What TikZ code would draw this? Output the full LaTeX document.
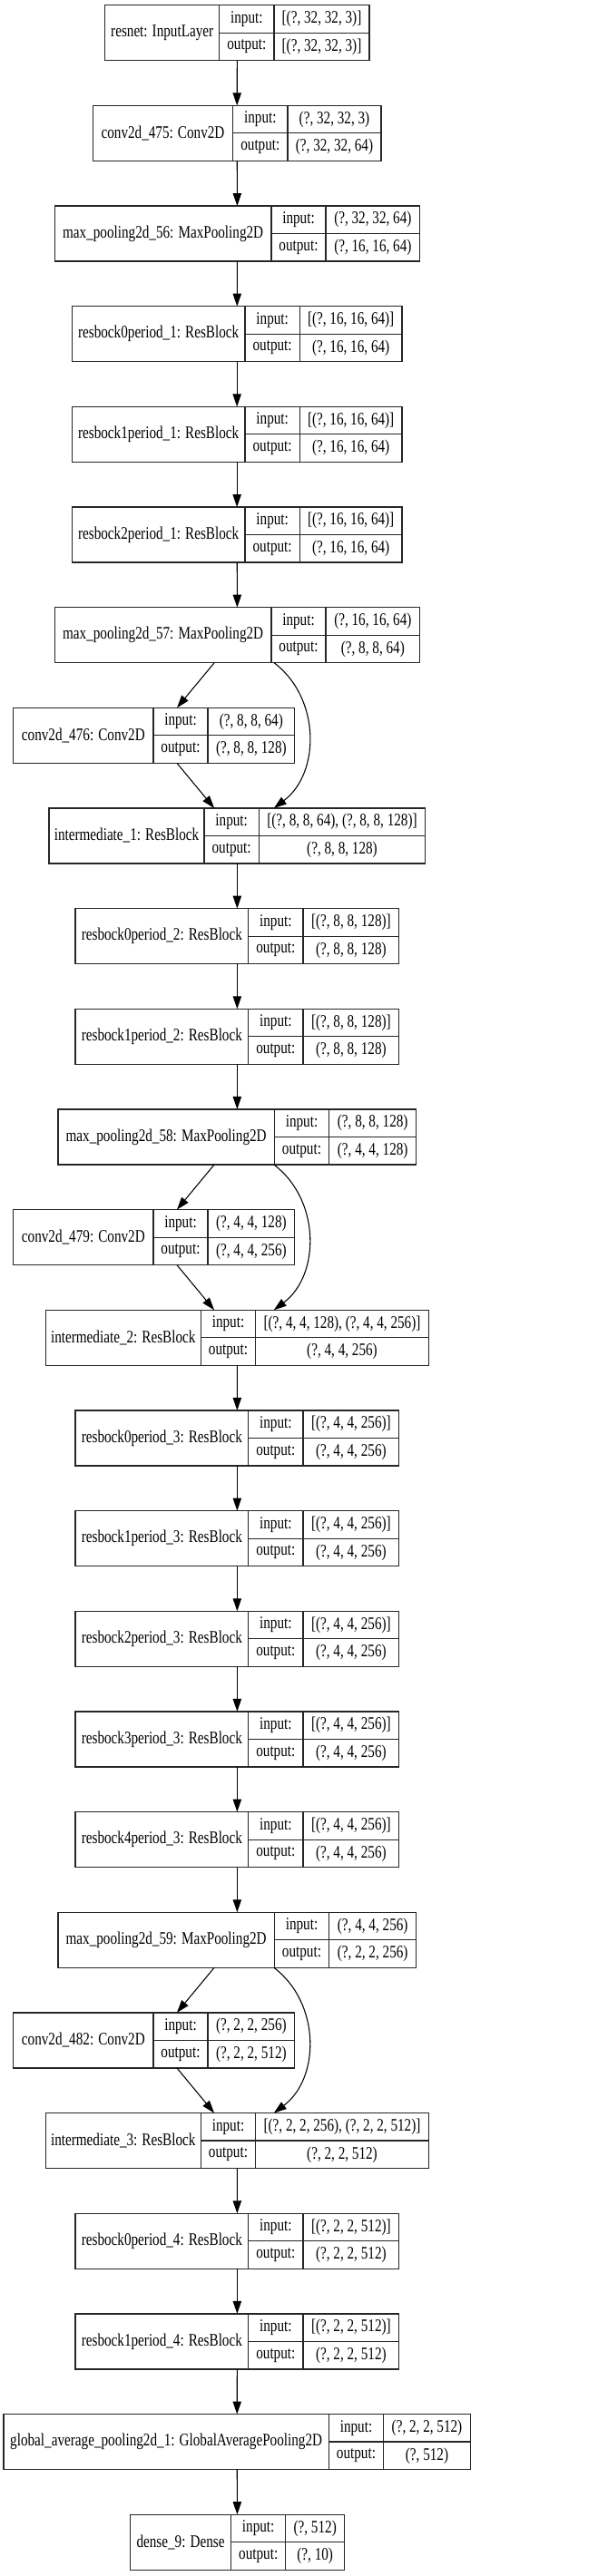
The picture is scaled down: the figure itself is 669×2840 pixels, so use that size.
\documentclass[tikz,border=0pt]{standalone}
\usepackage{fontspec}
\setmainfont{Liberation Serif}[FakeStretch=0.78]
\usetikzlibrary{arrows.meta}

% one keras layer: #1 name, #2 row, #3 left, #4 first rule, #5 second rule, #6 right,
% #7 label, #8 input shape, #9 output shape
\newcommand{\layer}[9]{%
  \pgfmathsetmacro{\ytop}{-(\rowtop + #2*\rowpitch)}
  \node (#1) at ({(#3+#6)/2}, \ytop-30.5) [layerbox, minimum width={(#6-#3)*0.75pt}] {};
  \draw[rule] (#4,\ytop) -- (#4,\ytop-61);
  \draw[rule] (#5,\ytop) -- (#5,\ytop-61);
  \draw[rule] (#4,\ytop-30.5) -- (#6,\ytop-30.5);
  \node (#1-name) at ({(#3+#4)/2}, \ytop-30.5) [txt] {#7};
  \node (#1-inkey) at ({(#4+#5)/2}, \ytop-15.25) [txt] {input:};
  \node (#1-in) at ({(#5+#6)/2}, \ytop-15.25) [txt] {#8};
  \node (#1-outkey) at ({(#4+#5)/2}, \ytop-45.75) [txt] {output:};
  \node (#1-out) at ({(#5+#6)/2}, \ytop-45.75) [txt] {#9};
}

\tikzset{
  layerbox/.style={draw=black!85, line width=0.9pt, inner sep=0pt, outer sep=0pt,
    minimum height=45.75pt},
  rule/.style={draw=black!85, line width=0.9pt},
  txt/.style={inner sep=0pt, font=\fontsize{14.6}{17}\selectfont},
  arr/.style={draw=black, line width=0.8pt, -{Triangle[length=10.5pt, width=7pt]}}
}

\begin{document}
\begin{tikzpicture}[x=0.75pt, y=0.75pt]

\def \rowtop {5.7}
\def \rowpitch {110.66}

\useasboundingbox (0,0) rectangle (669,-2840);

% Input and stem
\layer{in0}{0}{115.7}{241.7}{302}{407}{resnet: InputLayer}{[(?, 32, 32, 3)]}{[(?, 32, 32, 3)]}
\layer{c475}{1}{102.3}{256.7}{317}{420}{conv2d\_475: Conv2D}{(?, 32, 32, 3)}{(?, 32, 32, 64)}
\layer{mp56}{2}{60.3}{299}{359}{462.7}{max\_pooling2d\_56: MaxPooling2D}{(?, 32, 32, 64)}{(?, 16, 16, 64)}

% Period 1
\foreach \k in {0,1,2} {
  \pgfmathtruncatemacro{\r}{3 + \k}
  \layer{rb\k p1}{\r}{79.3}{270}{330.3}{443}{resbock\k period\_1: ResBlock}{[(?, 16, 16, 64)]}{(?, 16, 16, 64)}
}

% Down to period 2
\layer{mp57}{6}{60.3}{299}{359}{462.7}{max\_pooling2d\_57: MaxPooling2D}{(?, 16, 16, 64)}{(?, 8, 8, 64)}
\layer{c476}{7}{14.7}{169}{229}{324.7}{conv2d\_476: Conv2D}{(?, 8, 8, 64)}{(?, 8, 8, 128)}
\layer{int1}{8}{54}{225}{285.3}{468.7}{intermediate\_1: ResBlock}{[(?, 8, 8, 64), (?, 8, 8, 128)]}{(?, 8, 8, 128)}

% Period 2
\foreach \k in {0,1} {
  \pgfmathtruncatemacro{\r}{9 + \k}
  \layer{rb\k p2}{\r}{83}{273.7}{334}{439.7}{resbock\k period\_2: ResBlock}{[(?, 8, 8, 128)]}{(?, 8, 8, 128)}
}

% Down to period 3
\layer{mp58}{11}{64}{302.3}{362.7}{458.7}{max\_pooling2d\_58: MaxPooling2D}{(?, 8, 8, 128)}{(?, 4, 4, 128)}
\layer{c479}{12}{14.7}{169}{229}{324.7}{conv2d\_479: Conv2D}{(?, 4, 4, 128)}{(?, 4, 4, 256)}
\layer{int2}{13}{50.3}{221.3}{281.7}{472.3}{intermediate\_2: ResBlock}{[(?, 4, 4, 128), (?, 4, 4, 256)]}{(?, 4, 4, 256)}

% Period 3
\foreach \k in {0,...,4} {
  \pgfmathtruncatemacro{\r}{14 + \k}
  \layer{rb\k p3}{\r}{83}{273.7}{334}{439.7}{resbock\k period\_3: ResBlock}{[(?, 4, 4, 256)]}{(?, 4, 4, 256)}
}

% Down to period 4
\layer{mp59}{19}{64}{302.3}{362.7}{458.7}{max\_pooling2d\_59: MaxPooling2D}{(?, 4, 4, 256)}{(?, 2, 2, 256)}
\layer{c482}{20}{14.7}{169}{229}{324.7}{conv2d\_482: Conv2D}{(?, 2, 2, 256)}{(?, 2, 2, 512)}
\layer{int3}{21}{50.3}{221.3}{281.7}{472.3}{intermediate\_3: ResBlock}{[(?, 2, 2, 256), (?, 2, 2, 512)]}{(?, 2, 2, 512)}

% Period 4
\foreach \k in {0,1} {
  \pgfmathtruncatemacro{\r}{22 + \k}
  \layer{rb\k p4}{\r}{83}{273.7}{334}{439.7}{resbock\k period\_4: ResBlock}{[(?, 2, 2, 512)]}{(?, 2, 2, 512)}
}

% Head
\layer{gap}{24}{4}{362.3}{422.7}{518.3}{global\_average\_pooling2d\_1: GlobalAveragePooling2D}{(?, 2, 2, 512)}{(?, 512)}
\layer{d9}{25}{143.3}{254.7}{314.7}{379.7}{dense\_9: Dense}{(?, 512)}{(?, 10)}

% Straight connections
\foreach \a/\b in {in0/c475, c475/mp56, mp56/rb0p1, rb0p1/rb1p1, rb1p1/rb2p1, rb2p1/mp57,
                   mp57/c476, c476/int1, int1/rb0p2, rb0p2/rb1p2, rb1p2/mp58,
                   mp58/c479, c479/int2, int2/rb0p3, rb0p3/rb1p3, rb1p3/rb2p3, rb2p3/rb3p3,
                   rb3p3/rb4p3, rb4p3/mp59, mp59/c482, c482/int3, int3/rb0p4, rb0p4/rb1p4,
                   rb1p4/gap, gap/d9} {
  \draw[arr] (\a) -- (\b);
}

% Skip connections
\foreach \a/\b in {mp57/int1, mp58/int2, mp59/int3} {
  \draw[arr] (\a) .. controls +(-37:115) and +(37:115) .. (\b);
}

\end{tikzpicture}
\end{document}
